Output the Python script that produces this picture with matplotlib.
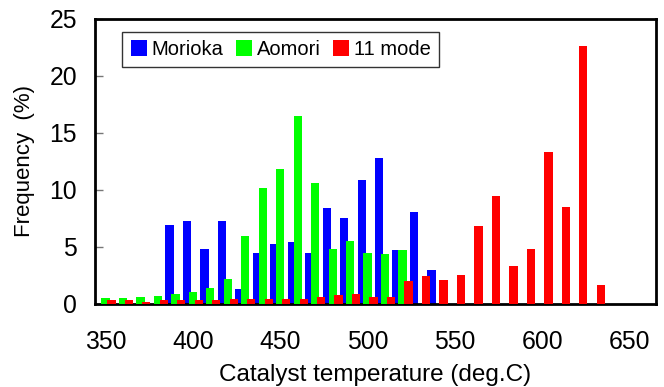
import numpy as np
import matplotlib
matplotlib.use('Agg')
import matplotlib.pyplot as plt

plt.rcParams['font.family'] = ['Liberation Sans', 'DejaVu Sans']

# temperature bins (deg.C)
bins_morioka = [390, 400, 410, 420, 430, 440, 450, 460, 470, 480, 490, 500, 510, 520, 530, 540]
morioka = [6.9, 7.3, 4.85, 7.3, 1.3, 4.45, 5.3, 5.4, 4.45, 8.4, 7.5, 10.85, 12.8, 4.7, 8.1, 3.0]

bins_aomori = [350, 360, 370, 380, 390, 400, 410, 420, 430, 440, 450, 460, 470, 480, 490, 500, 510, 520]
aomori = [0.5, 0.5, 0.65, 0.7, 0.85, 1.05, 1.4, 2.2, 6.0, 10.2, 11.8, 16.5, 10.6, 4.8, 5.55, 4.5, 4.4, 4.7]

bins_mode = list(range(350, 640, 10))
mode11 = [0.35, 0.35, 0.2, 0.35, 0.35, 0.35, 0.35, 0.45, 0.45, 0.45, 0.45, 0.45, 0.65, 0.75, 0.85,
          0.65, 0.6, 2.0, 2.45, 2.1, 2.5, 6.8, 9.45, 3.35, 4.8, 13.3, 8.5, 22.6, 1.65]

xticks = [350, 400, 450, 500, 550, 600, 650]
yticks = [0, 5, 10, 15, 20, 25]

fig = plt.figure(figsize=(6.64, 3.87), dpi=100)
ax = fig.add_axes([0.143, 0.2145, 0.845, 0.7365])

w = 4.75
off = 3.4
ax.bar(np.array(bins_morioka) - off, morioka, width=w, color='#0000ff', label='Morioka', zorder=2)
ax.bar(np.array(bins_aomori), aomori, width=w, color='#00ff00', label='Aomori', zorder=3)
ax.bar(np.array(bins_mode) + off, mode11, width=w, color='#ff0000', label='11 mode', zorder=4)

ax.set_xlim(344, 665)
ax.set_ylim(0, 25)
ax.set_xticks(xticks)
ax.set_yticks(yticks)
ax.tick_params(axis='x', length=0, pad=19, labelsize=17.8)
ax.tick_params(axis='y', direction='in', length=6, width=1, color='#777777', pad=13, labelsize=17.8)
for s in ax.spines.values():
    s.set_linewidth(2)

ax.set_xlabel('Catalyst temperature (deg.C)', fontsize=17.5, labelpad=7)
ax.set_ylabel('Frequency  (%)', fontsize=16, labelpad=10)

leg = ax.legend(loc='upper left', bbox_to_anchor=(0.049, 0.954), ncol=3, fontsize=14.5,
                frameon=True, fancybox=False, edgecolor='black', handlelength=0.8,
                handleheight=0.8, handletextpad=0.25, columnspacing=0.6, borderpad=0.4,
                borderaxespad=0)
leg.get_frame().set_linewidth(1)

fig.savefig('out.png', dpi=100)
